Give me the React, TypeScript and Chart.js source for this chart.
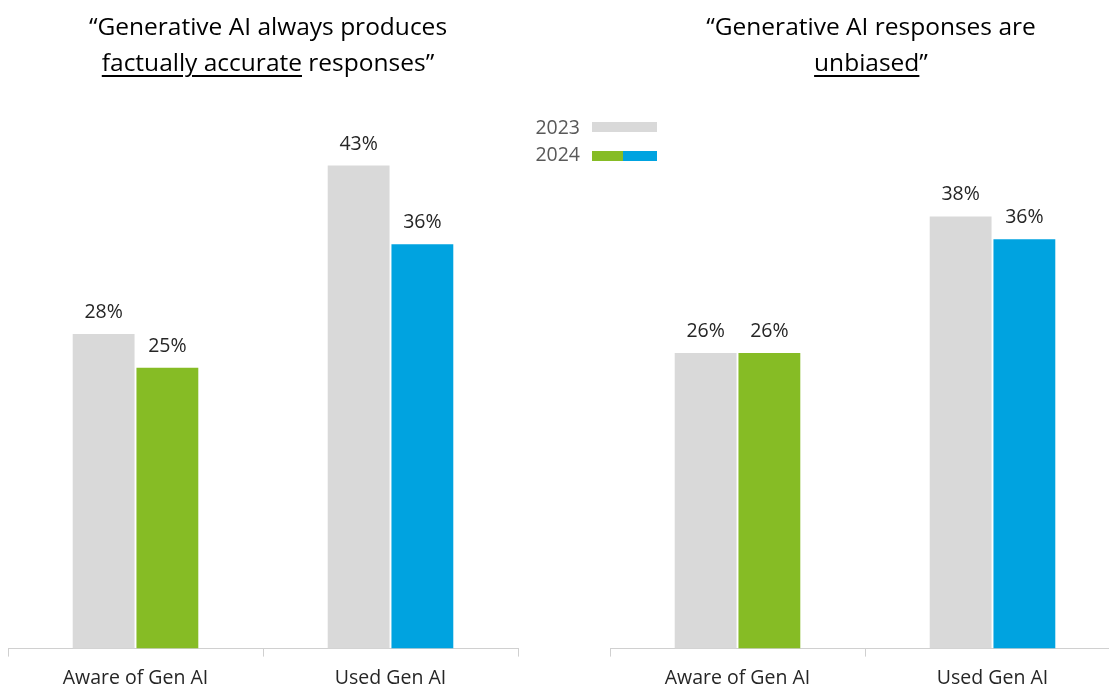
import React, { useEffect, useRef } from "react";
import { Chart, registerables } from "chart.js";

Chart.register(...registerables);

const categories = ["Aware of Gen AI", "Used Gen AI"];
const seriesLabels = ["2023", "2024"];
const accurate2023 = [28, 43];
const accurate2024 = [25, 36];
const unbiased2023 = [26, 38];
const unbiased2024 = [26, 36];

const GRAY = "#D9D9D9";
const GREEN = "#86BC25";
const BLUE = "#00A3E0";
const colors2024 = [GREEN, BLUE];
const FONT = "'Open Sans', 'Noto Sans', sans-serif";

const valueLabels = {
  id: "valueLabels",
  afterDatasetsDraw(chart: any) {
    const ctx = chart.ctx;
    ctx.save();
    ctx.font = `19.5px ${FONT}`;
    ctx.fillStyle = "#262626";
    ctx.textAlign = "center";
    ctx.textBaseline = "alphabetic";
    chart.data.datasets.forEach((ds: any, i: number) => {
      const meta = chart.getDatasetMeta(i);
      meta.data.forEach((bar: any, j: number) => {
        ctx.fillText(`${ds.data[j]}%`, bar.x, bar.y - 16);
      });
    });
    ctx.restore();
  },
};

function BarPanel(props: { v2023: number[]; v2024: number[]; left: number; padTop: number }) {
  const ref = useRef<HTMLCanvasElement>(null);
  useEffect(() => {
    if (!ref.current) return;
    const chart = new Chart(ref.current, {
      type: "bar",
      data: {
        labels: categories,
        datasets: [
          { label: seriesLabels[0], data: props.v2023, backgroundColor: GRAY },
          { label: seriesLabels[1], data: props.v2024, backgroundColor: colors2024 },
        ],
      },
      options: {
        responsive: false,
        animation: false,
        devicePixelRatio: 1,
        layout: { padding: { top: props.padTop, bottom: 0, left: 8, right: 8 } },
        datasets: { bar: { categoryPercentage: 0.5, barPercentage: 0.97 } },
        plugins: { legend: { display: false }, tooltip: { enabled: false } },
        scales: {
          y: { display: false, min: 0, max: 50 },
          x: {
            offset: true,
            grid: {
              display: true,
              drawOnChartArea: false,
              drawTicks: true,
              tickLength: 8,
              offset: true,
              color: "#D0D0D0",
            },
            border: { display: true, color: "#D0D0D0", width: 1 },
            ticks: {
              padding: 10,
              color: "#262626",
              font: { family: FONT, size: 19.5 },
            },
          },
        },
      },
      plugins: [valueLabels],
    } as any);
    return () => chart.destroy();
  }, []);
  return (
    <canvas
      ref={ref}
      width={526}
      height={700}
      style={{ position: "absolute", left: props.left, top: 0, width: 526, height: 700 }}
    />
  );
}

const titleStyle: React.CSSProperties = {
  position: "absolute",
  width: 520,
  textAlign: "center",
  fontFamily: FONT,
  fontSize: 24.5,
  lineHeight: "36px",
  color: "#000",
  top: 8,
};
const ul: React.CSSProperties = {
  textDecoration: "underline",
  textDecorationThickness: "1.5px",
  textUnderlineOffset: "4px",
};

export default function App() {
  return (
    <div
      style={{
        position: "fixed",
        left: 0,
        top: 0,
        width: 1109,
        height: 686,
        overflow: "hidden",
        background: "#fff",
      }}
    >
      <BarPanel v2023={accurate2023} v2024={accurate2024} left={0} padTop={87} />
      <BarPanel v2023={unbiased2023} v2024={unbiased2024} left={602} padTop={80} />
      <div style={{ ...titleStyle, left: 268 - 260 }}>
        “Generative AI always produces
        <br />
        <span style={ul}>factually accurate</span> responses”
      </div>
      <div style={{ ...titleStyle, left: 871 - 260 }}>
        “Generative AI responses are
        <br />
        <span style={ul}>unbiased</span>”
      </div>
      <div
        style={{
          position: "absolute",
          left: 500,
          top: 113,
          width: 80,
          textAlign: "right",
          fontFamily: FONT,
          fontSize: 19.5,
          lineHeight: "27px",
          color: "#595959",
        }}
      >
        {seriesLabels[0]}
        <br />
        {seriesLabels[1]}
      </div>
      <div style={{ position: "absolute", left: 592, top: 122, width: 65, height: 10, background: GRAY }} />
      <div style={{ position: "absolute", left: 592, top: 151, width: 31, height: 10, background: GREEN }} />
      <div style={{ position: "absolute", left: 623, top: 151, width: 34, height: 10, background: BLUE }} />
    </div>
  );
}
